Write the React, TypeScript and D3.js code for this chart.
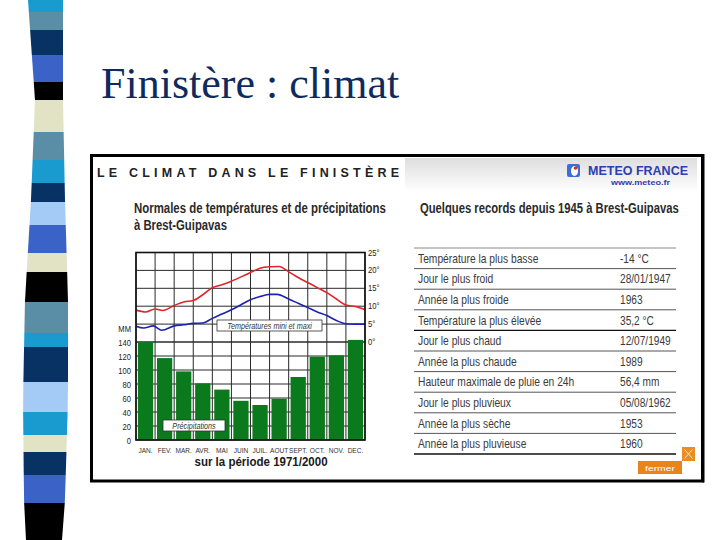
import * as d3 from "d3"

// --- data ---
const months = ["JAN.", "FEV.", "MAR.", "AVR.", "MAI", "JUIN", "JUIL.", "AOUT", "SEPT.", "OCT.", "NOV.", "DEC."]
const precip = [140, 117, 98, 81, 72, 56, 50, 59, 90, 119, 121, 143]

// temperature curves, position in months (0 = 1 Jan, 12 = 31 Dec)
const tmaxPos = [0, 0.5, 1.0, 1.4, 2.0, 2.5, 3.0, 3.5, 4.0, 4.5, 5.0, 5.6, 6.0, 6.5, 7.0, 7.5, 8.0, 8.5, 9.0, 9.5, 10.0, 10.5, 11.0, 11.5, 12.0]
const tmax = [8.9, 8.4, 9.2, 8.8, 10.2, 11.2, 11.6, 13.2, 15.2, 16.0, 17.0, 18.4, 19.4, 20.6, 21.0, 21.1, 19.6, 18.0, 16.6, 15.2, 13.8, 12.0, 10.3, 9.9, 9.0]
const tminPos = [0, 0.4, 0.9, 1.35, 2.0, 2.5, 3.0, 3.5, 4.0, 4.5, 5.0, 5.5, 6.0, 6.5, 7.0, 7.4, 8.0, 8.5, 9.0, 9.5, 10.0, 10.5, 11.0, 11.5, 12.0]
const tmin = [4.4, 3.9, 4.5, 3.3, 4.5, 4.8, 5.2, 5.3, 6.6, 7.8, 9.0, 10.4, 11.8, 12.7, 13.3, 13.3, 12.0, 10.8, 9.6, 8.4, 7.4, 6.0, 5.1, 5.0, 5.0]

const precipTicks = [0, 20, 40, 60, 80, 100, 120, 140]
const tempTicks = [0, 5, 10, 15, 20, 25]

const recordLabels = [
  "Température la plus basse",
  "Jour le plus froid",
  "Année la plus froide",
  "Température la plus élevée",
  "Jour le plus chaud",
  "Année la plus chaude",
  "Hauteur maximale de pluie en 24h",
  "Jour le plus pluvieux",
  "Année la plus sèche",
  "Année la plus pluvieuse",
]
const recordValues = ["-14 °C", "28/01/1947", "1963", "35,2 °C", "12/07/1949", "1989", "56,4 mm", "05/08/1962", "1953", "1960"]

// decorative stripe on the slide's left edge
const stripeBreaks = [0, 12, 30, 55, 82, 100, 132, 160, 183, 202, 225, 253, 272, 302, 333, 347, 382, 412, 435, 452, 475, 503, 540]
const stripeColors = [
  "#1a9bd0", "#5a8ea6", "#093264", "#3b62c6", "#000000", "#e2e2c4", "#5a8ea6", "#1a9bd0", "#093264", "#a4cbf5", "#3b62c6",
  "#e2e2c4", "#000000", "#5a8ea6", "#1a9bd0", "#093264", "#a4cbf5", "#1a9bd0", "#e2e2c4", "#093264", "#3b62c6", "#000000",
]

const SANS = "'Liberation Sans', Arial, sans-serif"

export default function App() {
  // stripe edges
  const edgeY = [0, 100, 200, 300, 400, 500, 540]
  const left = d3.scaleLinear().domain(edgeY).range([28, 35, 31, 25, 23, 24, 26])
  const right = d3.scaleLinear().domain(edgeY).range([63, 63, 65, 68, 68, 65, 62])

  // chart scales
  const xm = d3.scaleLinear().domain([0, 12]).range([136, 365])
  const xb = d3.scaleBand().domain(months).range([136, 365]).paddingInner(0.2).paddingOuter(0.1)
  const yT = d3.scaleLinear().domain([0, 25]).range([342, 252.5])
  const yP = d3.scaleLinear().domain([0, 140]).range([440, 342])

  const maxLine = d3.line<number>().x((_, i) => xm(tmaxPos[i])).y(d => yT(d)).curve(d3.curveMonotoneX)
  const minLine = d3.line<number>().x((_, i) => xm(tminPos[i])).y(d => yT(d)).curve(d3.curveMonotoneX)

  // records table rows
  const rows = d3.scaleBand().domain(recordLabels).range([248, 454])

  return (
    <svg width={720} height={540} viewBox="0 0 720 540" style={{ position: "absolute", left: 0, top: 0, background: "#fff" }}>
      <defs>
        <linearGradient id="band" x1="0" y1="0" x2="0" y2="1">
          <stop offset="0" stopColor="#dedede" />
          <stop offset="1" stopColor="#ffffff" />
        </linearGradient>
      </defs>
      <rect width={720} height={540} fill="#fff" />

      {/* left stripe */}
      {stripeColors.map((c, i) => {
        const y0 = stripeBreaks[i], y1 = stripeBreaks[i + 1]
        return (
          <polygon key={i} fill={c}
            points={`${left(y0)},${y0} ${right(y0)},${y0} ${right(y1)},${y1} ${left(y1)},${y1}`} />
        )
      })}

      {/* slide title */}
      <text x={101} y={98} fontFamily="'Liberation Serif', 'Times New Roman', serif" fontSize={44} fill="#0d2b5e">
        Finistère : climat
      </text>

      {/* picture frame */}
      <rect x={91.5} y={155.5} width={611} height={325.5} fill="#fff" stroke="#000" strokeWidth={3} />
      <line x1={703.5} x2={703.5} y1={154} y2={482.5} stroke="#000" strokeWidth={2} />
      <rect x={405} y={158} width={292} height={34} fill="url(#band)" />

      <text x={97} y={177} fontFamily={SANS} fontWeight="bold" fontSize={12.5} fill="#222"
        textLength={302} lengthAdjust="spacing">LE CLIMAT DANS LE FINISTÈRE</text>

      {/* Météo France logo */}
      <rect x={567} y={164} width={13} height={13} rx={2} fill="#3a6fd8" />
      <ellipse cx={574.5} cy={171} rx={3.5} ry={5} fill="#fff" />
      <circle cx={575.5} cy={168} r={1.8} fill="#d83020" />
      <text x={588} y={175} fontFamily={SANS} fontWeight="bold" fontSize={12} fill="#2b3fae"
        textLength={100} lengthAdjust="spacingAndGlyphs">METEO FRANCE</text>
      <text x={611} y={184.5} fontFamily={SANS} fontWeight="bold" fontSize={7.5} fill="#2b3fae"
        textLength={59} lengthAdjust="spacingAndGlyphs">www.meteo.fr</text>

      {/* headings (condensed bold) */}
      <g fontFamily={SANS} fontWeight="bold" fontSize={15.5} fill="#2a2a2a">
        <text transform="translate(134,212.5) scale(0.737,1)">Normales de températures et de précipitations</text>
        <text transform="translate(134,230) scale(0.73,1)">à Brest-Guipavas</text>
        <text transform="translate(420,212.5) scale(0.726,1)">Quelques records depuis 1945 à Brest-Guipavas</text>
      </g>

      {/* chart: grid */}
      <g stroke="#2a2a2a" strokeWidth={1}>
        {d3.range(13).map(i => (
          <line key={"v" + i} x1={xm(i)} x2={xm(i)} y1={yT(25)} y2={yP(0)} />
        ))}
        {tempTicks.map(t => (
          <line key={"t" + t} x1={xm(0)} x2={xm(12)} y1={yT(t)} y2={yT(t)} />
        ))}
        {precipTicks.map(p => (
          <line key={"p" + p} x1={xm(0)} x2={xm(12)} y1={yP(p)} y2={yP(p)} />
        ))}
      </g>

      {/* bars */}
      {precip.map((v, i) => (
        <rect key={months[i]} x={xb(months[i])} width={xb.bandwidth()} y={yP(v)} height={yP(0) - yP(v)} fill="#0b7a1c" />
      ))}

      {/* temperature lines */}
      <path d={maxLine(tmax) || ""} fill="none" stroke="#e0242a" strokeWidth={1.6} />
      <path d={minLine(tmin) || ""} fill="none" stroke="#1c22b4" strokeWidth={1.6} />

      <rect x={xm(0)} y={yT(25)} width={xm(12) - xm(0)} height={yP(0) - yT(25)} fill="none" stroke="#111" strokeWidth={1.6} />

      {/* annotation boxes */}
      <rect x={217} y={320} width={105} height={11} fill="#fff" stroke="#333" strokeWidth={0.8} />
      <text transform="translate(269.5,328.6) scale(0.85,1)" textAnchor="middle" fontFamily={SANS} fontStyle="italic"
        fontSize={8.5} fill="#333">Températures mini et maxi</text>
      <rect x={163} y={420} width={62} height={11} fill="#fff" stroke="#333" strokeWidth={0.8} />
      <text transform="translate(194,428.6) scale(0.85,1)" textAnchor="middle" fontFamily={SANS} fontStyle="italic"
        fontSize={8.5} fill="#333">Précipitations</text>

      {/* axes labels */}
      <g fontFamily={SANS} fill="#222">
        {tempTicks.map(t => (
          <text key={t} transform={`translate(368,${yT(t) + 3}) scale(0.85,1)`} fontSize={9}>{t}°</text>
        ))}
        {precipTicks.map(p => (
          <text key={p} transform={`translate(131,${yP(p) + 3.5}) scale(0.8,1)`} fontSize={9.5} textAnchor="end">{p}</text>
        ))}
        <text transform="translate(131,331.5) scale(0.8,1)" fontSize={9.5} textAnchor="end">MM</text>
        {months.map(m => (
          <text key={m} transform={`translate(${(xb(m) || 0) + xb.bandwidth() / 2},453) scale(0.82,1)`}
            fontSize={8} textAnchor="middle" fill="#333">{m}</text>
        ))}
        <text transform="translate(261,466) scale(0.96,1)" fontSize={12} fontWeight="bold" textAnchor="middle"
          fill="#1a1a1a">sur la période 1971/2000</text>
      </g>

      {/* records table */}
      <g fontFamily={SANS} fontSize={13} fill="#3a3a3a">
        {recordLabels.map((r, i) => (
          <g key={r}>
            <text transform={`translate(418,${(rows(r) || 0) + 14.8}) scale(0.79,1)`}>{r}</text>
            <text transform={`translate(620,${(rows(r) || 0) + 14.8}) scale(0.78,1)`}>{recordValues[i]}</text>
          </g>
        ))}
      </g>
      <line x1={414} x2={676} y1={rows.range()[0]} y2={rows.range()[0]} stroke="#8a8a8a" strokeWidth={1} />
      {recordLabels.map((r, i) => (
        <line key={r} x1={414} x2={676} y1={(rows(r) || 0) + rows.bandwidth()} y2={(rows(r) || 0) + rows.bandwidth()}
          stroke={i === 3 || i === recordLabels.length - 1 ? "#111" : "#555"}
          strokeWidth={i === 3 || i === recordLabels.length - 1 ? 1.4 : 1} />
      ))}

      {/* close buttons */}
      <rect x={682} y={447} width={13} height={14} fill="#ee8a1e" />
      <path d="M684.5,449.5 L692.5,458.5 M692.5,449.5 L684.5,458.5" stroke="#fbe6c8" strokeWidth={1} />
      <rect x={638} y={461} width={44} height={13} fill="#e8841a" />
      <text x={660} y={470.5} textAnchor="middle" fontFamily={SANS} fontSize={8} fill="#fff"
        textLength={30} lengthAdjust="spacingAndGlyphs">fermer</text>
    </svg>
  )
}
